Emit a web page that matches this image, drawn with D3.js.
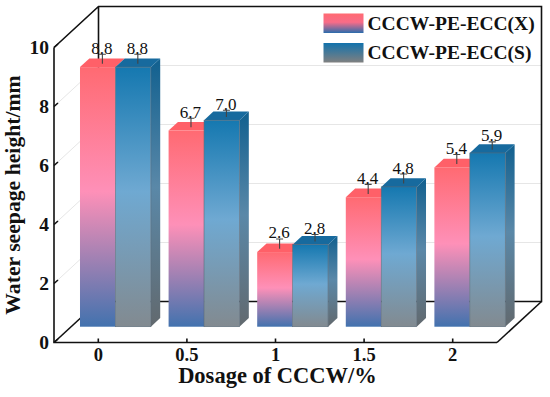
<!DOCTYPE html>
<html>
<head>
<meta charset="utf-8">
<script src="https://cdn.jsdelivr.net/npm/d3@7"></script>
<style>
  html, body { margin: 0; background: #fff; }
  svg { display: block; }
  text { font-family: "Liberation Serif", serif; fill: #111; }
</style>
</head>
<body>
<svg></svg>
<script>
let width = 550, height = 397;

let dosages = ["0", "0.5", "1", "1.5", "2"];
let seriesNames = ["CCCW-PE-ECC(X)", "CCCW-PE-ECC(S)"];
let valuesX = [8.8, 6.7, 2.6, 4.4, 5.4];
let valuesS = [8.8, 7.0, 2.8, 4.8, 5.9];
let barHeightsX = [8.8, 6.65, 2.53, 4.39, 5.4];
let barHeightsS = [8.8, 7.0, 2.78, 4.74, 5.89];
let errorsX = [0.29, 0.27, 0.3, 0.29, 0.29];
let errorsS = [0.29, 0.19, 0.2, 0.29, 0.23];
let yTicks = [0, 2, 4, 6, 8, 10];

let svg = d3.select("svg")
    .attr("width", width)
    .attr("height", height)
    .attr("viewBox", "0 0 " + width + " " + height);

// front plane scales
let x = d3.scaleBand().domain(dosages).range([54, 497]).paddingInner(0.2).paddingOuter(0.1);
let y = d3.scaleLinear().domain([0, 10]).range([342.5, 47.5]);
// depth goes up and to the right, z 0 = front wall, z 1 = back wall
let depthX = d3.scaleLinear().domain([0, 1]).range([0, 44.5]);
let depthY = d3.scaleLinear().domain([0, 1]).range([0, -41]);
let barZ = 0.385, barDepth = 0.21;

let defs = svg.append("defs");
function gradient(id, stops) {
    let g = defs.append("linearGradient").attr("id", id)
        .attr("x1", 0).attr("y1", 0).attr("x2", 0).attr("y2", 1);
    stops.forEach(s => g.append("stop").attr("offset", s[0]).attr("stop-color", s[1]));
}
gradient("frontX", [[0, "#ff6a72"], [0.48, "#fe90b8"], [1, "#4272ae"]]);
gradient("frontS", [[0, "#1578b0"], [0.48, "#6fa9d2"], [1, "#828a90"]]);
gradient("sideS", [[0, "#11608f"], [0.48, "#5a88a8"], [1, "#62696e"]]);
gradient("legendX", [[0, "#ff6a72"], [0.45, "#f86c88"], [1, "#2a6cac"]]);
gradient("legendS", [[0, "#1272ac"], [1, "#808080"]]);

let px = (v, z) => v + depthX(z);
let py = (v, z) => y(v) + depthY(z);
let line = d3.line();

// walls, grid first
let grid = svg.append("g").attr("fill", "none").attr("stroke", "#e6e6e6").attr("stroke-width", 1);
yTicks.filter(d => d > 0).forEach(d => {
    grid.append("path").attr("d", line([[54, y(d)], [px(54, 1), py(d, 1)], [px(497, 1), py(d, 1)]]));
});

let frame = svg.append("g").attr("fill", "none").attr("stroke", "#111").attr("stroke-width", 1.6);
let x0 = 54, x1 = 497;
frame.append("path").attr("d", line([[x0, y(10)], [px(x0, 1), py(10, 1)], [px(x1, 1), py(10, 1)], [px(x1, 1), py(0, 1)], [px(x0, 1), py(0, 1)], [px(x0, 1), py(10, 1)]]));
frame.append("path").attr("d", line([[x0, y(0)], [px(x0, 1), py(0, 1)]]));
frame.append("path").attr("d", line([[x1, y(0)], [px(x1, 1), py(0, 1)]]));
frame.append("path").attr("d", line([[x0, y(10)], [x0, y(0)], [x1, y(0)]]));

// ticks
frame.selectAll(".ytick").data(yTicks).enter().append("path")
    .attr("d", d => line([[x0, y(d)], [x0 + 4, y(d) - 3.5]]));
frame.selectAll(".xtick").data(dosages).enter().append("path")
    .attr("d", d => line([[x(d) + x.bandwidth() / 2, y(0)], [x(d) + x.bandwidth() / 2, y(0) - 4]]));

svg.selectAll(".ylab").data(yTicks).enter().append("text")
    .attr("x", 49).attr("y", d => y(d) + 6.5)
    .attr("text-anchor", "end").attr("font-weight", "bold").attr("font-size", 19.5)
    .text(d => d);
svg.selectAll(".xlab").data(dosages).enter().append("text")
    .attr("x", d => x(d) + x.bandwidth() / 2).attr("y", 361)
    .attr("text-anchor", "middle").attr("font-weight", "bold").attr("font-size", 18.5)
    .text(d => d);

svg.append("text").attr("x", 277.5).attr("y", 382.5)
    .attr("text-anchor", "middle").attr("font-weight", "bold").attr("font-size", 22.5)
    .text("Dosage of CCCW/%");
svg.append("text").attr("transform", "translate(20,195) rotate(-90)")
    .attr("text-anchor", "middle").attr("font-weight", "bold").attr("font-size", 21.7)
    .text("Water seepage height/mm");

// bars
let barW = x.bandwidth() / 2;
let rows = [];
dosages.forEach((d, i) => {
    rows.push({ key: "X", left: x(d), h: barHeightsX[i], v: valuesX[i], err: errorsX[i], top: "#ff6068" });
    rows.push({ key: "S", left: x(d) + barW, h: barHeightsS[i], v: valuesS[i], err: errorsS[i], top: "#176a9e" });
});
let dx = depthX(barDepth), dy = depthY(barDepth);
let shift = d => "translate(" + (depthX(barZ)) + "," + depthY(barZ) + ")";

let bars = svg.append("g").selectAll("g").data(rows).enter().append("g")
    .attr("transform", shift);
// left series first so the right one overlaps its top
bars.filter(d => d.key == "S").append("path")
    .attr("d", d => line([[d.left + barW, y(d.h)], [d.left + barW + dx, y(d.h) + dy], [d.left + barW + dx, y(0) + dy], [d.left + barW, y(0)]]) + "Z")
    .attr("fill", "url(#sideS)");
bars.append("path")
    .attr("d", d => line([[d.left, y(d.h)], [d.left + dx, y(d.h) + dy], [d.left + barW + dx, y(d.h) + dy], [d.left + barW, y(d.h)]]) + "Z")
    .attr("fill", d => d.top);
bars.append("rect")
    .attr("x", d => d.left).attr("y", d => y(d.h))
    .attr("width", barW).attr("height", d => y(0) - y(d.h))
    .attr("fill", d => "url(#front" + d.key + ")");
bars.filter(d => d.key == "S").append("rect")
    .attr("x", d => d.left).attr("y", d => y(d.h))
    .attr("width", barW).attr("height", d => y(0) - y(d.h))
    .attr("fill", "none").attr("stroke", "#5a6a78").attr("stroke-width", 0.6);

// error bars and labels, sit in the middle of the bar top
let errs = svg.append("g").selectAll("g").data(rows).enter().append("g")
    .attr("transform", shift);
let cx = d => d.left + barW / 2 + dx / 2;
let cy = d => y(d.h) + dy / 2;
let capY = d => cy(d) - (y(0) - y(d.err));
errs.append("path")
    .attr("d", d => line([[cx(d), cy(d) + 1], [cx(d), capY(d)]]) + line([[cx(d) - 3.5, capY(d)], [cx(d) + 3.5, capY(d)]]))
    .attr("fill", "none").attr("stroke", "#444").attr("stroke-width", 1.1);
errs.append("text")
    .attr("x", d => cx(d) - 0.5).attr("y", d => capY(d) - 0.5)
    .attr("text-anchor", "middle").attr("font-size", 17)
    .text(d => d.v.toFixed(1));

// legend
let legendY = d3.scalePoint().domain(seriesNames).range([13.5, 43]);
let legend = svg.append("g").selectAll("g").data(seriesNames).enter().append("g");
legend.append("rect")
    .attr("x", 323.5).attr("y", d => legendY(d))
    .attr("width", 40).attr("height", 19.5)
    .attr("fill", (d, i) => i == 0 ? "url(#legendX)" : "url(#legendS)");
legend.append("text")
    .attr("x", 367.5).attr("y", d => legendY(d) + 16)
    .attr("font-weight", "bold").attr("font-size", 19.5)
    .text(d => d);
</script>
</body>
</html>
